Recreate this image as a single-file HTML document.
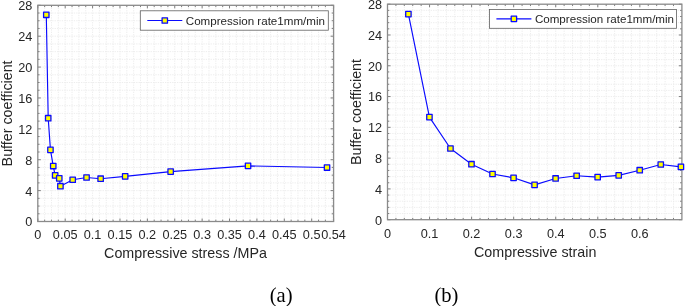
<!DOCTYPE html>
<html><head><meta charset="utf-8"><style>
html,body{margin:0;padding:0;background:#fff;}
body{width:685px;height:306px;overflow:hidden;}
svg{display:block;will-change:transform;}
#w{width:685px;height:306px;}
text{font-family:"Liberation Sans",sans-serif;fill:#262626;}
.tk{font-size:12.7px;}
.al{font-size:14.3px;}
.lg{font-size:11.6px;}
.cap{font-family:"Liberation Serif",serif;font-size:20.6px;fill:#000;}
</style></head><body><div id="w">
<svg width="685" height="306" viewBox="0 0 685 306">
<rect width="685" height="306" fill="#fff"/>
<g stroke="#ebebeb" stroke-width="0.9" stroke-dasharray="1.3 1.1"><line x1="44.65" y1="5.30" x2="44.65" y2="221.50"/><line x1="51.49" y1="5.30" x2="51.49" y2="221.50"/><line x1="58.34" y1="5.30" x2="58.34" y2="221.50"/><line x1="65.19" y1="5.30" x2="65.19" y2="221.50"/><line x1="72.04" y1="5.30" x2="72.04" y2="221.50"/><line x1="78.88" y1="5.30" x2="78.88" y2="221.50"/><line x1="85.73" y1="5.30" x2="85.73" y2="221.50"/><line x1="92.58" y1="5.30" x2="92.58" y2="221.50"/><line x1="99.42" y1="5.30" x2="99.42" y2="221.50"/><line x1="106.27" y1="5.30" x2="106.27" y2="221.50"/><line x1="113.12" y1="5.30" x2="113.12" y2="221.50"/><line x1="119.97" y1="5.30" x2="119.97" y2="221.50"/><line x1="126.81" y1="5.30" x2="126.81" y2="221.50"/><line x1="133.66" y1="5.30" x2="133.66" y2="221.50"/><line x1="140.51" y1="5.30" x2="140.51" y2="221.50"/><line x1="147.36" y1="5.30" x2="147.36" y2="221.50"/><line x1="154.20" y1="5.30" x2="154.20" y2="221.50"/><line x1="161.05" y1="5.30" x2="161.05" y2="221.50"/><line x1="167.90" y1="5.30" x2="167.90" y2="221.50"/><line x1="174.74" y1="5.30" x2="174.74" y2="221.50"/><line x1="181.59" y1="5.30" x2="181.59" y2="221.50"/><line x1="188.44" y1="5.30" x2="188.44" y2="221.50"/><line x1="195.29" y1="5.30" x2="195.29" y2="221.50"/><line x1="202.13" y1="5.30" x2="202.13" y2="221.50"/><line x1="208.98" y1="5.30" x2="208.98" y2="221.50"/><line x1="215.83" y1="5.30" x2="215.83" y2="221.50"/><line x1="222.68" y1="5.30" x2="222.68" y2="221.50"/><line x1="229.52" y1="5.30" x2="229.52" y2="221.50"/><line x1="236.37" y1="5.30" x2="236.37" y2="221.50"/><line x1="243.22" y1="5.30" x2="243.22" y2="221.50"/><line x1="250.06" y1="5.30" x2="250.06" y2="221.50"/><line x1="256.91" y1="5.30" x2="256.91" y2="221.50"/><line x1="263.76" y1="5.30" x2="263.76" y2="221.50"/><line x1="270.61" y1="5.30" x2="270.61" y2="221.50"/><line x1="277.45" y1="5.30" x2="277.45" y2="221.50"/><line x1="284.30" y1="5.30" x2="284.30" y2="221.50"/><line x1="291.15" y1="5.30" x2="291.15" y2="221.50"/><line x1="297.99" y1="5.30" x2="297.99" y2="221.50"/><line x1="304.84" y1="5.30" x2="304.84" y2="221.50"/><line x1="311.69" y1="5.30" x2="311.69" y2="221.50"/><line x1="318.54" y1="5.30" x2="318.54" y2="221.50"/><line x1="325.38" y1="5.30" x2="325.38" y2="221.50"/><line x1="332.23" y1="5.30" x2="332.23" y2="221.50"/><line x1="37.80" y1="213.78" x2="333.60" y2="213.78"/><line x1="37.80" y1="206.06" x2="333.60" y2="206.06"/><line x1="37.80" y1="198.34" x2="333.60" y2="198.34"/><line x1="37.80" y1="190.61" x2="333.60" y2="190.61"/><line x1="37.80" y1="182.89" x2="333.60" y2="182.89"/><line x1="37.80" y1="175.17" x2="333.60" y2="175.17"/><line x1="37.80" y1="167.45" x2="333.60" y2="167.45"/><line x1="37.80" y1="159.73" x2="333.60" y2="159.73"/><line x1="37.80" y1="152.01" x2="333.60" y2="152.01"/><line x1="37.80" y1="144.29" x2="333.60" y2="144.29"/><line x1="37.80" y1="136.56" x2="333.60" y2="136.56"/><line x1="37.80" y1="128.84" x2="333.60" y2="128.84"/><line x1="37.80" y1="121.12" x2="333.60" y2="121.12"/><line x1="37.80" y1="113.40" x2="333.60" y2="113.40"/><line x1="37.80" y1="105.68" x2="333.60" y2="105.68"/><line x1="37.80" y1="97.96" x2="333.60" y2="97.96"/><line x1="37.80" y1="90.24" x2="333.60" y2="90.24"/><line x1="37.80" y1="82.51" x2="333.60" y2="82.51"/><line x1="37.80" y1="74.79" x2="333.60" y2="74.79"/><line x1="37.80" y1="67.07" x2="333.60" y2="67.07"/><line x1="37.80" y1="59.35" x2="333.60" y2="59.35"/><line x1="37.80" y1="51.63" x2="333.60" y2="51.63"/><line x1="37.80" y1="43.91" x2="333.60" y2="43.91"/><line x1="37.80" y1="36.19" x2="333.60" y2="36.19"/><line x1="37.80" y1="28.46" x2="333.60" y2="28.46"/><line x1="37.80" y1="20.74" x2="333.60" y2="20.74"/><line x1="37.80" y1="13.02" x2="333.60" y2="13.02"/></g>
<path d="M37.80 221.50v-3M37.80 5.30v3M65.19 221.50v-3M65.19 5.30v3M92.58 221.50v-3M92.58 5.30v3M119.97 221.50v-3M119.97 5.30v3M147.36 221.50v-3M147.36 5.30v3M174.74 221.50v-3M174.74 5.30v3M202.13 221.50v-3M202.13 5.30v3M229.52 221.50v-3M229.52 5.30v3M256.91 221.50v-3M256.91 5.30v3M284.30 221.50v-3M284.30 5.30v3M311.69 221.50v-3M311.69 5.30v3M333.60 221.50v-3M333.60 5.30v3M44.65 221.50v-1.8M44.65 5.30v1.8M51.49 221.50v-1.8M51.49 5.30v1.8M58.34 221.50v-1.8M58.34 5.30v1.8M72.04 221.50v-1.8M72.04 5.30v1.8M78.88 221.50v-1.8M78.88 5.30v1.8M85.73 221.50v-1.8M85.73 5.30v1.8M99.42 221.50v-1.8M99.42 5.30v1.8M106.27 221.50v-1.8M106.27 5.30v1.8M113.12 221.50v-1.8M113.12 5.30v1.8M126.81 221.50v-1.8M126.81 5.30v1.8M133.66 221.50v-1.8M133.66 5.30v1.8M140.51 221.50v-1.8M140.51 5.30v1.8M154.20 221.50v-1.8M154.20 5.30v1.8M161.05 221.50v-1.8M161.05 5.30v1.8M167.90 221.50v-1.8M167.90 5.30v1.8M181.59 221.50v-1.8M181.59 5.30v1.8M188.44 221.50v-1.8M188.44 5.30v1.8M195.29 221.50v-1.8M195.29 5.30v1.8M208.98 221.50v-1.8M208.98 5.30v1.8M215.83 221.50v-1.8M215.83 5.30v1.8M222.68 221.50v-1.8M222.68 5.30v1.8M236.37 221.50v-1.8M236.37 5.30v1.8M243.22 221.50v-1.8M243.22 5.30v1.8M250.06 221.50v-1.8M250.06 5.30v1.8M263.76 221.50v-1.8M263.76 5.30v1.8M270.61 221.50v-1.8M270.61 5.30v1.8M277.45 221.50v-1.8M277.45 5.30v1.8M291.15 221.50v-1.8M291.15 5.30v1.8M297.99 221.50v-1.8M297.99 5.30v1.8M304.84 221.50v-1.8M304.84 5.30v1.8M318.54 221.50v-1.8M318.54 5.30v1.8M325.38 221.50v-1.8M325.38 5.30v1.8M37.80 221.50h3M333.60 221.50h-3M37.80 190.61h3M333.60 190.61h-3M37.80 159.73h3M333.60 159.73h-3M37.80 128.84h3M333.60 128.84h-3M37.80 97.96h3M333.60 97.96h-3M37.80 67.07h3M333.60 67.07h-3M37.80 36.19h3M333.60 36.19h-3M37.80 5.30h3M333.60 5.30h-3M37.80 213.78h1.8M333.60 213.78h-1.8M37.80 206.06h1.8M333.60 206.06h-1.8M37.80 198.34h1.8M333.60 198.34h-1.8M37.80 182.89h1.8M333.60 182.89h-1.8M37.80 175.17h1.8M333.60 175.17h-1.8M37.80 167.45h1.8M333.60 167.45h-1.8M37.80 152.01h1.8M333.60 152.01h-1.8M37.80 144.29h1.8M333.60 144.29h-1.8M37.80 136.56h1.8M333.60 136.56h-1.8M37.80 121.12h1.8M333.60 121.12h-1.8M37.80 113.40h1.8M333.60 113.40h-1.8M37.80 105.68h1.8M333.60 105.68h-1.8M37.80 90.24h1.8M333.60 90.24h-1.8M37.80 82.51h1.8M333.60 82.51h-1.8M37.80 74.79h1.8M333.60 74.79h-1.8M37.80 59.35h1.8M333.60 59.35h-1.8M37.80 51.63h1.8M333.60 51.63h-1.8M37.80 43.91h1.8M333.60 43.91h-1.8M37.80 28.46h1.8M333.60 28.46h-1.8M37.80 20.74h1.8M333.60 20.74h-1.8M37.80 13.02h1.8M333.60 13.02h-1.8" stroke="#606060" stroke-width="0.8" fill="none"/>
<rect x="37.80" y="5.30" width="295.80" height="216.20" fill="none" stroke="#8a8a8a" stroke-width="1.3"/>
<text x="37.80" y="239" text-anchor="middle" class="tk">0</text>
<text x="65.19" y="239" text-anchor="middle" class="tk">0.05</text>
<text x="92.58" y="239" text-anchor="middle" class="tk">0.1</text>
<text x="119.97" y="239" text-anchor="middle" class="tk">0.15</text>
<text x="147.36" y="239" text-anchor="middle" class="tk">0.2</text>
<text x="174.74" y="239" text-anchor="middle" class="tk">0.25</text>
<text x="202.13" y="239" text-anchor="middle" class="tk">0.3</text>
<text x="229.52" y="239" text-anchor="middle" class="tk">0.35</text>
<text x="256.91" y="239" text-anchor="middle" class="tk">0.4</text>
<text x="284.30" y="239" text-anchor="middle" class="tk">0.45</text>
<text x="311.69" y="239" text-anchor="middle" class="tk">0.5</text>
<text x="333.60" y="239" text-anchor="middle" class="tk">0.54</text>
<text x="32.30" y="226.40" text-anchor="end" class="tk">0</text>
<text x="32.30" y="195.51" text-anchor="end" class="tk">4</text>
<text x="32.30" y="164.63" text-anchor="end" class="tk">8</text>
<text x="32.30" y="133.74" text-anchor="end" class="tk">12</text>
<text x="32.30" y="102.86" text-anchor="end" class="tk">16</text>
<text x="32.30" y="71.97" text-anchor="end" class="tk">20</text>
<text x="32.30" y="41.09" text-anchor="end" class="tk">24</text>
<text x="32.30" y="10.20" text-anchor="end" class="tk">28</text>
<text x="185.5" y="257.6" text-anchor="middle" class="al">Compressive stress /MPa</text>
<text transform="translate(11.7 113.40) rotate(-90)" text-anchor="middle" class="al">Buffer coefficient</text>
<polyline points="46.29,14.80 48.21,118.19 50.45,149.85 53.25,166.06 55.16,175.40 59.27,178.41 60.42,186.21 72.69,179.73 86.55,177.49 100.63,178.72 125.17,176.41 170.64,171.62 248.04,165.91 327.03,167.53" fill="none" stroke="#0a0aff" stroke-width="1.15" stroke-linejoin="round"/>
<rect x="43.59" y="12.10" width="5.4" height="5.4" fill="#ffff00" stroke="#0a0aff" stroke-width="1.3" stroke-linejoin="round"/>
<rect x="45.51" y="115.49" width="5.4" height="5.4" fill="#ffff00" stroke="#0a0aff" stroke-width="1.3" stroke-linejoin="round"/>
<rect x="47.75" y="147.15" width="5.4" height="5.4" fill="#ffff00" stroke="#0a0aff" stroke-width="1.3" stroke-linejoin="round"/>
<rect x="50.55" y="163.36" width="5.4" height="5.4" fill="#ffff00" stroke="#0a0aff" stroke-width="1.3" stroke-linejoin="round"/>
<rect x="52.46" y="172.70" width="5.4" height="5.4" fill="#ffff00" stroke="#0a0aff" stroke-width="1.3" stroke-linejoin="round"/>
<rect x="56.57" y="175.71" width="5.4" height="5.4" fill="#ffff00" stroke="#0a0aff" stroke-width="1.3" stroke-linejoin="round"/>
<rect x="57.72" y="183.51" width="5.4" height="5.4" fill="#ffff00" stroke="#0a0aff" stroke-width="1.3" stroke-linejoin="round"/>
<rect x="69.99" y="177.03" width="5.4" height="5.4" fill="#ffff00" stroke="#0a0aff" stroke-width="1.3" stroke-linejoin="round"/>
<rect x="83.85" y="174.79" width="5.4" height="5.4" fill="#ffff00" stroke="#0a0aff" stroke-width="1.3" stroke-linejoin="round"/>
<rect x="97.93" y="176.02" width="5.4" height="5.4" fill="#ffff00" stroke="#0a0aff" stroke-width="1.3" stroke-linejoin="round"/>
<rect x="122.47" y="173.71" width="5.4" height="5.4" fill="#ffff00" stroke="#0a0aff" stroke-width="1.3" stroke-linejoin="round"/>
<rect x="167.94" y="168.92" width="5.4" height="5.4" fill="#ffff00" stroke="#0a0aff" stroke-width="1.3" stroke-linejoin="round"/>
<rect x="245.34" y="163.21" width="5.4" height="5.4" fill="#ffff00" stroke="#0a0aff" stroke-width="1.3" stroke-linejoin="round"/>
<rect x="324.33" y="164.83" width="5.4" height="5.4" fill="#ffff00" stroke="#0a0aff" stroke-width="1.3" stroke-linejoin="round"/>
<rect x="140.3" y="10.8" width="188.0" height="19.4" fill="#fff" stroke="#606060" stroke-width="0.8"/>
<line x1="147.3" y1="20.5" x2="182.3" y2="20.5" stroke="#0a0aff" stroke-width="1.15"/>
<rect x="162.10000000000002" y="17.8" width="5.4" height="5.4" fill="#ffff00" stroke="#0a0aff" stroke-width="1.3" stroke-linejoin="round"/>
<text x="185.8" y="24.7" class="lg">Compression rate1mm/min</text>
<g stroke="#ebebeb" stroke-width="0.9" stroke-dasharray="1.3 1.1"><line x1="395.91" y1="4.20" x2="395.91" y2="219.70"/><line x1="404.32" y1="4.20" x2="404.32" y2="219.70"/><line x1="412.73" y1="4.20" x2="412.73" y2="219.70"/><line x1="421.15" y1="4.20" x2="421.15" y2="219.70"/><line x1="429.56" y1="4.20" x2="429.56" y2="219.70"/><line x1="437.97" y1="4.20" x2="437.97" y2="219.70"/><line x1="446.38" y1="4.20" x2="446.38" y2="219.70"/><line x1="454.79" y1="4.20" x2="454.79" y2="219.70"/><line x1="463.20" y1="4.20" x2="463.20" y2="219.70"/><line x1="471.61" y1="4.20" x2="471.61" y2="219.70"/><line x1="480.03" y1="4.20" x2="480.03" y2="219.70"/><line x1="488.44" y1="4.20" x2="488.44" y2="219.70"/><line x1="496.85" y1="4.20" x2="496.85" y2="219.70"/><line x1="505.26" y1="4.20" x2="505.26" y2="219.70"/><line x1="513.67" y1="4.20" x2="513.67" y2="219.70"/><line x1="522.08" y1="4.20" x2="522.08" y2="219.70"/><line x1="530.49" y1="4.20" x2="530.49" y2="219.70"/><line x1="538.91" y1="4.20" x2="538.91" y2="219.70"/><line x1="547.32" y1="4.20" x2="547.32" y2="219.70"/><line x1="555.73" y1="4.20" x2="555.73" y2="219.70"/><line x1="564.14" y1="4.20" x2="564.14" y2="219.70"/><line x1="572.55" y1="4.20" x2="572.55" y2="219.70"/><line x1="580.96" y1="4.20" x2="580.96" y2="219.70"/><line x1="589.37" y1="4.20" x2="589.37" y2="219.70"/><line x1="597.79" y1="4.20" x2="597.79" y2="219.70"/><line x1="606.20" y1="4.20" x2="606.20" y2="219.70"/><line x1="614.61" y1="4.20" x2="614.61" y2="219.70"/><line x1="623.02" y1="4.20" x2="623.02" y2="219.70"/><line x1="631.43" y1="4.20" x2="631.43" y2="219.70"/><line x1="639.84" y1="4.20" x2="639.84" y2="219.70"/><line x1="648.25" y1="4.20" x2="648.25" y2="219.70"/><line x1="656.67" y1="4.20" x2="656.67" y2="219.70"/><line x1="665.08" y1="4.20" x2="665.08" y2="219.70"/><line x1="673.49" y1="4.20" x2="673.49" y2="219.70"/><line x1="387.50" y1="213.54" x2="681.90" y2="213.54"/><line x1="387.50" y1="207.39" x2="681.90" y2="207.39"/><line x1="387.50" y1="201.23" x2="681.90" y2="201.23"/><line x1="387.50" y1="195.07" x2="681.90" y2="195.07"/><line x1="387.50" y1="188.91" x2="681.90" y2="188.91"/><line x1="387.50" y1="182.76" x2="681.90" y2="182.76"/><line x1="387.50" y1="176.60" x2="681.90" y2="176.60"/><line x1="387.50" y1="170.44" x2="681.90" y2="170.44"/><line x1="387.50" y1="164.29" x2="681.90" y2="164.29"/><line x1="387.50" y1="158.13" x2="681.90" y2="158.13"/><line x1="387.50" y1="151.97" x2="681.90" y2="151.97"/><line x1="387.50" y1="145.81" x2="681.90" y2="145.81"/><line x1="387.50" y1="139.66" x2="681.90" y2="139.66"/><line x1="387.50" y1="133.50" x2="681.90" y2="133.50"/><line x1="387.50" y1="127.34" x2="681.90" y2="127.34"/><line x1="387.50" y1="121.19" x2="681.90" y2="121.19"/><line x1="387.50" y1="115.03" x2="681.90" y2="115.03"/><line x1="387.50" y1="108.87" x2="681.90" y2="108.87"/><line x1="387.50" y1="102.71" x2="681.90" y2="102.71"/><line x1="387.50" y1="96.56" x2="681.90" y2="96.56"/><line x1="387.50" y1="90.40" x2="681.90" y2="90.40"/><line x1="387.50" y1="84.24" x2="681.90" y2="84.24"/><line x1="387.50" y1="78.09" x2="681.90" y2="78.09"/><line x1="387.50" y1="71.93" x2="681.90" y2="71.93"/><line x1="387.50" y1="65.77" x2="681.90" y2="65.77"/><line x1="387.50" y1="59.61" x2="681.90" y2="59.61"/><line x1="387.50" y1="53.46" x2="681.90" y2="53.46"/><line x1="387.50" y1="47.30" x2="681.90" y2="47.30"/><line x1="387.50" y1="41.14" x2="681.90" y2="41.14"/><line x1="387.50" y1="34.99" x2="681.90" y2="34.99"/><line x1="387.50" y1="28.83" x2="681.90" y2="28.83"/><line x1="387.50" y1="22.67" x2="681.90" y2="22.67"/><line x1="387.50" y1="16.51" x2="681.90" y2="16.51"/><line x1="387.50" y1="10.36" x2="681.90" y2="10.36"/></g>
<path d="M387.50 219.70v-3M387.50 4.20v3M429.56 219.70v-3M429.56 4.20v3M471.61 219.70v-3M471.61 4.20v3M513.67 219.70v-3M513.67 4.20v3M555.73 219.70v-3M555.73 4.20v3M597.79 219.70v-3M597.79 4.20v3M639.84 219.70v-3M639.84 4.20v3M395.91 219.70v-1.8M395.91 4.20v1.8M404.32 219.70v-1.8M404.32 4.20v1.8M412.73 219.70v-1.8M412.73 4.20v1.8M421.15 219.70v-1.8M421.15 4.20v1.8M437.97 219.70v-1.8M437.97 4.20v1.8M446.38 219.70v-1.8M446.38 4.20v1.8M454.79 219.70v-1.8M454.79 4.20v1.8M463.20 219.70v-1.8M463.20 4.20v1.8M480.03 219.70v-1.8M480.03 4.20v1.8M488.44 219.70v-1.8M488.44 4.20v1.8M496.85 219.70v-1.8M496.85 4.20v1.8M505.26 219.70v-1.8M505.26 4.20v1.8M522.08 219.70v-1.8M522.08 4.20v1.8M530.49 219.70v-1.8M530.49 4.20v1.8M538.91 219.70v-1.8M538.91 4.20v1.8M547.32 219.70v-1.8M547.32 4.20v1.8M564.14 219.70v-1.8M564.14 4.20v1.8M572.55 219.70v-1.8M572.55 4.20v1.8M580.96 219.70v-1.8M580.96 4.20v1.8M589.37 219.70v-1.8M589.37 4.20v1.8M606.20 219.70v-1.8M606.20 4.20v1.8M614.61 219.70v-1.8M614.61 4.20v1.8M623.02 219.70v-1.8M623.02 4.20v1.8M631.43 219.70v-1.8M631.43 4.20v1.8M648.25 219.70v-1.8M648.25 4.20v1.8M656.67 219.70v-1.8M656.67 4.20v1.8M665.08 219.70v-1.8M665.08 4.20v1.8M673.49 219.70v-1.8M673.49 4.20v1.8M387.50 219.70h3M681.90 219.70h-3M387.50 188.91h3M681.90 188.91h-3M387.50 158.13h3M681.90 158.13h-3M387.50 127.34h3M681.90 127.34h-3M387.50 96.56h3M681.90 96.56h-3M387.50 65.77h3M681.90 65.77h-3M387.50 34.99h3M681.90 34.99h-3M387.50 4.20h3M681.90 4.20h-3M387.50 213.54h1.8M681.90 213.54h-1.8M387.50 207.39h1.8M681.90 207.39h-1.8M387.50 201.23h1.8M681.90 201.23h-1.8M387.50 195.07h1.8M681.90 195.07h-1.8M387.50 182.76h1.8M681.90 182.76h-1.8M387.50 176.60h1.8M681.90 176.60h-1.8M387.50 170.44h1.8M681.90 170.44h-1.8M387.50 164.29h1.8M681.90 164.29h-1.8M387.50 151.97h1.8M681.90 151.97h-1.8M387.50 145.81h1.8M681.90 145.81h-1.8M387.50 139.66h1.8M681.90 139.66h-1.8M387.50 133.50h1.8M681.90 133.50h-1.8M387.50 121.19h1.8M681.90 121.19h-1.8M387.50 115.03h1.8M681.90 115.03h-1.8M387.50 108.87h1.8M681.90 108.87h-1.8M387.50 102.71h1.8M681.90 102.71h-1.8M387.50 90.40h1.8M681.90 90.40h-1.8M387.50 84.24h1.8M681.90 84.24h-1.8M387.50 78.09h1.8M681.90 78.09h-1.8M387.50 71.93h1.8M681.90 71.93h-1.8M387.50 59.61h1.8M681.90 59.61h-1.8M387.50 53.46h1.8M681.90 53.46h-1.8M387.50 47.30h1.8M681.90 47.30h-1.8M387.50 41.14h1.8M681.90 41.14h-1.8M387.50 28.83h1.8M681.90 28.83h-1.8M387.50 22.67h1.8M681.90 22.67h-1.8M387.50 16.51h1.8M681.90 16.51h-1.8M387.50 10.36h1.8M681.90 10.36h-1.8" stroke="#606060" stroke-width="0.8" fill="none"/>
<rect x="387.50" y="4.20" width="294.40" height="215.50" fill="none" stroke="#8a8a8a" stroke-width="1.3"/>
<text x="387.50" y="237.6" text-anchor="middle" class="tk">0</text>
<text x="429.56" y="237.6" text-anchor="middle" class="tk">0.1</text>
<text x="471.61" y="237.6" text-anchor="middle" class="tk">0.2</text>
<text x="513.67" y="237.6" text-anchor="middle" class="tk">0.3</text>
<text x="555.73" y="237.6" text-anchor="middle" class="tk">0.4</text>
<text x="597.79" y="237.6" text-anchor="middle" class="tk">0.5</text>
<text x="639.84" y="237.6" text-anchor="middle" class="tk">0.6</text>
<text x="382.00" y="224.60" text-anchor="end" class="tk">0</text>
<text x="382.00" y="193.81" text-anchor="end" class="tk">4</text>
<text x="382.00" y="163.03" text-anchor="end" class="tk">8</text>
<text x="382.00" y="132.24" text-anchor="end" class="tk">12</text>
<text x="382.00" y="101.46" text-anchor="end" class="tk">16</text>
<text x="382.00" y="70.67" text-anchor="end" class="tk">20</text>
<text x="382.00" y="39.89" text-anchor="end" class="tk">24</text>
<text x="382.00" y="9.10" text-anchor="end" class="tk">28</text>
<text x="535.2" y="256.5" text-anchor="middle" class="al">Compressive strain</text>
<text transform="translate(361.2 111.95) rotate(-90)" text-anchor="middle" class="al">Buffer coefficient</text>
<polyline points="408.40,14.13 429.43,117.11 450.46,148.51 471.49,164.21 492.52,173.98 513.55,177.83 534.57,184.91 555.60,178.45 576.63,175.75 597.66,177.14 618.69,175.37 639.72,170.21 660.75,164.52 680.93,166.83" fill="none" stroke="#0a0aff" stroke-width="1.15" stroke-linejoin="round"/>
<rect x="405.70" y="11.43" width="5.4" height="5.4" fill="#ffff00" stroke="#0a0aff" stroke-width="1.3" stroke-linejoin="round"/>
<rect x="426.73" y="114.41" width="5.4" height="5.4" fill="#ffff00" stroke="#0a0aff" stroke-width="1.3" stroke-linejoin="round"/>
<rect x="447.76" y="145.81" width="5.4" height="5.4" fill="#ffff00" stroke="#0a0aff" stroke-width="1.3" stroke-linejoin="round"/>
<rect x="468.79" y="161.51" width="5.4" height="5.4" fill="#ffff00" stroke="#0a0aff" stroke-width="1.3" stroke-linejoin="round"/>
<rect x="489.82" y="171.28" width="5.4" height="5.4" fill="#ffff00" stroke="#0a0aff" stroke-width="1.3" stroke-linejoin="round"/>
<rect x="510.85" y="175.13" width="5.4" height="5.4" fill="#ffff00" stroke="#0a0aff" stroke-width="1.3" stroke-linejoin="round"/>
<rect x="531.87" y="182.21" width="5.4" height="5.4" fill="#ffff00" stroke="#0a0aff" stroke-width="1.3" stroke-linejoin="round"/>
<rect x="552.90" y="175.75" width="5.4" height="5.4" fill="#ffff00" stroke="#0a0aff" stroke-width="1.3" stroke-linejoin="round"/>
<rect x="573.93" y="173.05" width="5.4" height="5.4" fill="#ffff00" stroke="#0a0aff" stroke-width="1.3" stroke-linejoin="round"/>
<rect x="594.96" y="174.44" width="5.4" height="5.4" fill="#ffff00" stroke="#0a0aff" stroke-width="1.3" stroke-linejoin="round"/>
<rect x="615.99" y="172.67" width="5.4" height="5.4" fill="#ffff00" stroke="#0a0aff" stroke-width="1.3" stroke-linejoin="round"/>
<rect x="637.02" y="167.51" width="5.4" height="5.4" fill="#ffff00" stroke="#0a0aff" stroke-width="1.3" stroke-linejoin="round"/>
<rect x="658.05" y="161.82" width="5.4" height="5.4" fill="#ffff00" stroke="#0a0aff" stroke-width="1.3" stroke-linejoin="round"/>
<rect x="678.23" y="164.13" width="5.4" height="5.4" fill="#ffff00" stroke="#0a0aff" stroke-width="1.3" stroke-linejoin="round"/>
<rect x="489.4" y="9.4" width="187.20000000000005" height="18.9" fill="#fff" stroke="#606060" stroke-width="0.8"/>
<line x1="496.4" y1="18.85" x2="531.4" y2="18.85" stroke="#0a0aff" stroke-width="1.15"/>
<rect x="511.2" y="16.150000000000002" width="5.4" height="5.4" fill="#ffff00" stroke="#0a0aff" stroke-width="1.3" stroke-linejoin="round"/>
<text x="534.9" y="23.05" class="lg">Compression rate1mm/min</text>
<text x="281.1" y="302" text-anchor="middle" class="cap">(a)</text>
<text x="446.4" y="302" text-anchor="middle" class="cap">(b)</text>
</svg></div></body></html>
